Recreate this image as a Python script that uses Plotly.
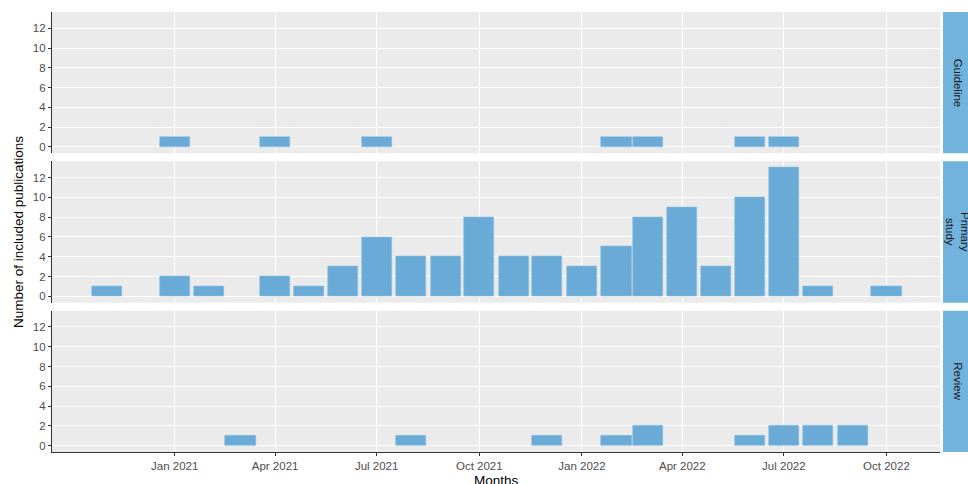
import plotly.graph_objects as go
from plotly.subplots import make_subplots

facets = ["Guideline", "Primary study", "Review"]
strip_labels = ["Guideline", "Primary<br>study", "Review"]

guideline_months = ["2021-01-01", "2021-04-01", "2021-07-01", "2022-02-01", "2022-03-01", "2022-06-01", "2022-07-01"]
guideline_counts = [1, 1, 1, 1, 1, 1, 1]

primary_months = ["2020-11-01", "2021-01-01", "2021-02-01", "2021-04-01", "2021-05-01", "2021-06-01",
                  "2021-07-01", "2021-08-01", "2021-09-01", "2021-10-01", "2021-11-01", "2021-12-01",
                  "2022-01-01", "2022-02-01", "2022-03-01", "2022-04-01", "2022-05-01", "2022-06-01",
                  "2022-07-01", "2022-08-01", "2022-10-01"]
primary_counts = [1, 2, 1, 2, 1, 3, 6, 4, 4, 8, 4, 4, 3, 5, 8, 9, 3, 10, 13, 1, 1]

review_months = ["2021-03-01", "2021-08-01", "2021-12-01", "2022-02-01", "2022-03-01", "2022-06-01",
                 "2022-07-01", "2022-08-01", "2022-09-01"]
review_counts = [1, 1, 1, 1, 2, 1, 2, 2, 2]

x_tickvals = ["2021-01-01", "2021-04-01", "2021-07-01", "2021-10-01", "2022-01-01", "2022-04-01", "2022-07-01", "2022-10-01"]
x_ticktext = ["Jan 2021", "Apr 2021", "Jul 2021", "Oct 2021", "Jan 2022", "Apr 2022", "Jul 2022", "Oct 2022"]
y_ticks = [0, 2, 4, 6, 8, 10, 12]

series = [(guideline_months, guideline_counts), (primary_months, primary_counts), (review_months, review_counts)]

BAR = "#69abd6"
STRIP = "#72b3de"
PANEL = "#ebebeb"
FONT = "Liberation Sans, Arial, sans-serif"

fig = make_subplots(rows=3, cols=1, shared_xaxes=True, vertical_spacing=8 / 440)

day_ms = 86400000
for i, (m, c) in enumerate(series):
    fig.add_trace(go.Bar(x=m, y=c, width=27 * day_ms, marker=dict(color=BAR, line=dict(color="#8cc0e2", width=0.6)),
                         showlegend=False, name=facets[i]), row=i + 1, col=1)

for i in range(3):
    fig.update_yaxes(range=[-0.65, 13.65], tickvals=y_ticks, ticks="outside", ticklen=3, tickcolor="#333333",
                     showline=True, linecolor="#333333", linewidth=1.2, gridcolor="white", gridwidth=1.1,
                     zeroline=False, automargin=False,
                     tickfont=dict(family=FONT, size=11.5, color="#4d4d4d"), row=i + 1, col=1)
    fig.update_xaxes(type="date", range=["2020-09-13", "2022-11-18"], tickvals=x_tickvals, ticktext=x_ticktext,
                     gridcolor="white", gridwidth=1.1, zeroline=False, showline=False, automargin=False,
                     row=i + 1, col=1)

fig.update_xaxes(showline=True, linecolor="#333333", linewidth=1.2, ticks="outside", ticklen=3, tickcolor="#333333",
                 tickfont=dict(family=FONT, size=11.5, color="#4d4d4d"), row=3, col=1)

yrefs = ["y", "y2", "y3"]
for i in range(3):
    fig.add_shape(type="rect", xref="paper", yref=f"{yrefs[i]} domain", x0=1.0034, x1=1.04, y0=0, y1=1,
                  fillcolor=STRIP, line=dict(width=0), layer="below")
    fig.add_annotation(xref="paper", yref=f"{yrefs[i]} domain", x=1.0034 + 15 / 888, y=0.5, text=strip_labels[i],
                       textangle=90, showarrow=False, font=dict(family=FONT, size=11.5, color="#1a1a1a"),
                       xanchor="center", yanchor="middle")

fig.add_annotation(xref="paper", yref="paper", x=-34 / 888, y=0.5, text="Number of included publications",
                   textangle=-90, showarrow=False, font=dict(family=FONT, size=13.5, color="black"),
                   xanchor="center", yanchor="middle")
fig.add_annotation(xref="paper", yref="paper", x=(496 - 52) / 888, y=0, yshift=-19, text="Months",
                   showarrow=False, font=dict(family=FONT, size=13.5, color="black"),
                   xanchor="center", yanchor="top")

fig.update_layout(width=968, height=484, margin=dict(l=52, r=28, t=12, b=32, autoexpand=False),
                  plot_bgcolor=PANEL, paper_bgcolor="white", bargap=0,
                  font=dict(family=FONT))

fig.write_html("out.html", config={"displayModeBar": False},
               post_script="document.body.style.margin='0';document.body.style.overflow='hidden';")
